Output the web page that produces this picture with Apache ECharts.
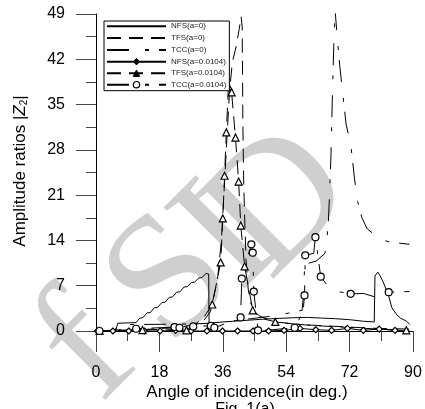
<!DOCTYPE html>
<html>
<head>
<meta charset="utf-8">
<script src="https://cdn.jsdelivr.net/npm/echarts@6/dist/echarts.min.js"></script>
<style>
html,body{margin:0;padding:0;background:#fff;}
#chart{width:425px;height:409px;}
</style>
</head>
<body>
<div id="chart"></div>
<script>
// Amplitude ratio |Z2| against angle of incidence (degrees)

// NFS (a = 0): step-wise climb to the first critical angle, then a slow arc and a late spike
const nfs0 = [
  [0,0],[5.5,0],[6.2,1.2],[11.4,1.3],
  [12.4,2.0],[12.9,2.1],[13.3,2.05],[14.5,2.8],[15.0,2.9],[15.4,2.85],
  [16.6,3.6],[17.1,3.7],[17.5,3.65],[18.7,4.4],[19.2,4.5],[19.6,4.45],
  [20.8,5.2],[21.3,5.3],[21.7,5.25],[22.9,6.0],[23.4,6.1],[23.8,6.05],
  [25.0,6.8],[25.5,6.9],[25.9,6.85],[27.1,7.5],[27.6,7.6],[28.0,7.55],
  [29.2,8.2],[29.7,8.3],[30.1,8.25],[31.2,8.9],[31.7,9.1],[32.0,8.8],[32.1,1.2],
  [36,1.4],[40,1.55],[44,1.7],[48,1.85],[52,1.95],[56,2.05],[60,2.1],[64,2.0],
  [68,1.9],[72,1.75],[76,1.5],[79.0,1.4],[79.2,8.5],[80.0,9.1],[80.6,8.6],
  [81.5,7.6],[83.0,5.6],[84.0,3.6],[85.4,2.5],[86.4,2.0],[88.2,1.5],[89.1,1.0]
];

// TFS (a = 0): sharp peak just above 41 degrees
const tfs0 = [
  [0,0],[8,0.1],[16,0.3],[24,0.6],[30,1.2],[32.5,3],[34.5,8],[35.6,14],[36.4,22],
  [37.2,30],[37.9,37],[38.7,41.5],[39.8,44],[40.6,46.5],[41.2,48.6],[41.5,47],
  [41.6,40],[41.7,32],[41.9,24],[42.2,17.5],[42.6,11],[43.2,6.5],[44,4.2],
  [45.5,2.6],[48,1.8],[52,1.3],[58,1.0],[65,0.8],[72,0.6],[80,0.4],[89,0.3]
];

// TCC (a = 0): flat start, peak near 68 degrees, slow decay
const tcc0 = [
  [0,0],[5.5,0.1],[6.2,1.0],[12,1.0],[20,1.05],[28,1.1],[32,1.2],[38,1.5],[44,1.9],
  [50,2.3],[55,2.8],[58.5,3.2],[59,6],[59.2,10],[60.5,10.5],[62.5,10.8],[65,12],
  [65.9,16],[66.3,21],[66.7,27],[67.1,36],[67.5,44],[67.9,49.5],[68.4,46],[69.2,41],
  [70,37],[71,32],[72.4,28.5],[73.4,23.5],[74.3,20],[75.5,17.5],[77,15.8],[80.8,14.1],
  [84,13.7],[89,13.4]
];

// NFS (a = 0.0104): marked points
const nfs104Marks = [
  [0.4,0],[4.8,0],[9.3,0],[13.7,0],[18.2,0],[22.6,0.1],[27.0,0],[31.5,0],[35.9,0],
  [40.2,0],[44.6,0],[49.0,0],[53.4,0.1],[57.9,0.4],[62.4,0.2],[66.9,0.1],[71.4,0.4],
  [75.9,0.1],[80.4,0.3],[84.9,0.1]
];
const nfs104Path = [[89,0.1]];

// TFS (a = 0.0104): marked points and the line between them
const tfs104Marks = [
  [1.0,0],[13.2,0.15],[25.7,0.1],[33.0,4.1],[35.4,10.6],[36.0,17.4],[36.5,24.0],
  [37.0,30.7],[37.6,37.8],[38.5,36.9],[39.6,29.9],[40.5,23.1],[41.1,16.3],[42.2,10.0],
  [44.5,3.2],[50.9,1.4],[88.1,0.1]
];
const tfs104Path = [
  [5,0.1],[20,0.3],[28,1.0],[30.5,2.0],[46.5,2.3],[60,0.9],[70,0.6],[80,0.3]
];

// TCC (a = 0.0104): marked points and the line between them
const tcc104Marks = [
  [1.0,0],[11.4,0.35],[22.3,0.6],[23.7,0.5],[27.6,0.7],[32.6,0.8],[33.6,0.5],
  [41.05,2.1],[41.4,8.1],[44.1,13.4],[44.5,12.1],[44.8,6.1],[46.0,0.1],[56.4,0.5],
  [59.2,5.5],[59.4,11.7],[62.3,14.5],[63.8,8.4],[72.3,5.75],[83.1,6.0]
];
const tcc104Path = [
  [37,1.2],[39.5,1.6],[50,0.2],[58.8,3.0],[61.8,12.0],[66,6.8],[68.5,6.1],
  [76,5.8],[79,5.3],[89,6.1]
];

const seriesNames = ['NFS(a=0)','TFS(a=0)','TCC(a=0)','NFS(a=0.0104)','TFS(a=0.0104)','TCC(a=0.0104)'];

const xTickStep = 18;
const yTickStep = 7;

function withMarks(path, marks) {
  return path.map(p => ({ value: p, symbol: 'none' }))
    .concat(marks.map(p => ({ value: p })))
    .sort((a, b) => a.value[0] - b.value[0]);
}

const DASH_LONG = [14, 8];
const DASH_LONG_SHORT = [22, 16, 4, 10];

function lineSeries(name, data, dash, symbol, size) {
  return {
    name: name,
    type: 'line',
    data: data,
    symbol: symbol,
    symbolSize: size,
    showAllSymbol: true,
    clip: true,
    silent: true,
    animation: false,
    lineStyle: { color: '#000', width: 1, type: dash },
    itemStyle: { color: '#fff', borderColor: '#000', borderWidth: 1.2 },
    emphasis: { disabled: true }
  };
}

const hiddenMark = { opacity: 0 };
const solidMark = { color: '#000', borderColor: '#000', borderWidth: 1 };
const openMark = { color: '#fff', borderColor: '#000', borderWidth: 1.2 };

// faint diagonal watermark letters
function stamp(ch, x, y) {
  return {
    type: 'text', silent: true, z: -10,
    x: x, y: y, rotation: Math.PI / 4,
    style: {
      text: ch, fill: '#cfcfcf',
      font: '175px "Liberation Serif", serif',
      align: 'center', verticalAlign: 'middle'
    }
  };
}

const chart = echarts.init(document.getElementById('chart'), null, { renderer: 'canvas' });

chart.setOption({
  backgroundColor: '#fff',
  animation: false,
  grid: { left: 96, right: 12, top: 14, bottom: 78, containLabel: false },
  xAxis: {
    type: 'value', min: 0, max: 90, interval: xTickStep,
    axisLine: { show: true, onZero: false, lineStyle: { color: '#000', width: 1 } },
    axisTick: { show: true, inside: false, length: 21, lineStyle: { color: '#444', width: 1 } },
    minorTick: { show: true, splitNumber: 2, length: 10, lineStyle: { color: '#444', width: 1 } },
    splitLine: { show: false },
    axisLabel: { fontSize: 16, color: '#000', margin: 34, fontFamily: 'Liberation Sans, Arial, sans-serif' }
  },
  yAxis: {
    type: 'value', min: 0, max: 49, interval: yTickStep,
    axisLine: { show: true, onZero: false, lineStyle: { color: '#000', width: 1 } },
    axisTick: { show: true, inside: false, length: 20, lineStyle: { color: '#444', width: 1 } },
    minorTick: { show: true, splitNumber: 2, length: 10, lineStyle: { color: '#444', width: 1 } },
    splitLine: { show: false },
    axisLabel: { fontSize: 16, color: '#000', margin: 31, fontFamily: 'Liberation Sans, Arial, sans-serif' }
  },
  legend: {
    show: true,
    orient: 'vertical',
    left: 104, top: 21,
    itemWidth: 59, itemHeight: 8, itemGap: 3.5,
    padding: [1, 3, 2, 2],
    borderColor: '#000', borderWidth: 1,
    backgroundColor: '#fff',
    selectedMode: false,
    data: [
      { name: seriesNames[0], itemStyle: hiddenMark },
      { name: seriesNames[1], itemStyle: hiddenMark },
      { name: seriesNames[2], itemStyle: hiddenMark },
      { name: seriesNames[3], itemStyle: solidMark },
      { name: seriesNames[4], itemStyle: solidMark },
      { name: seriesNames[5], itemStyle: openMark }
    ],
    textStyle: { fontSize: 8, color: '#222', fontFamily: 'Liberation Sans, Arial, sans-serif' }
  },
  graphic: [
    stamp('f', 88, 352),
    stamp('S', 172, 282),
    stamp('I', 228, 240),
    stamp('D', 282, 205),
    {
      type: 'text', silent: true, z: 10,
      x: 20, y: 171, rotation: Math.PI / 2,
      style: {
        text: 'Amplitude ratios |{i|Z}{s|2}|',
        fill: '#000',
        font: '17px "Liberation Sans", Arial, sans-serif',
        align: 'center', verticalAlign: 'middle',
        rich: {
          i: { fontStyle: 'italic', fontSize: 17, fontFamily: 'Liberation Sans' },
          s: { fontSize: 10, verticalAlign: 'bottom', lineHeight: 18, fontFamily: 'Liberation Sans' }
        }
      }
    },
    {
      type: 'text', silent: true, z: 10,
      x: 247, y: 392,
      style: {
        text: 'Angle of incidence(in deg.)', fill: '#000',
        font: '17px "Liberation Sans", Arial, sans-serif',
        align: 'center', verticalAlign: 'middle'
      }
    },
    {
      type: 'text', silent: true, z: 10,
      x: 245, y: 402,
      style: {
        text: 'Fig. 1(a)', fill: '#000',
        font: '16px "Liberation Sans", Arial, sans-serif',
        align: 'center', verticalAlign: 'top'
      }
    }
  ],
  series: [
    lineSeries(seriesNames[0], nfs0, 'solid', 'none', 0),
    lineSeries(seriesNames[1], tfs0, DASH_LONG, 'none', 0),
    lineSeries(seriesNames[2], tcc0, DASH_LONG_SHORT, 'none', 0),
    lineSeries(seriesNames[3], withMarks(nfs104Path, nfs104Marks), 'solid', 'diamond', 6),
    lineSeries(seriesNames[4], withMarks(tfs104Path, tfs104Marks), DASH_LONG, 'triangle', 7),
    lineSeries(seriesNames[5], withMarks(tcc104Path, tcc104Marks), DASH_LONG_SHORT, 'circle', 7)
  ]
});
</script>
</body>
</html>
